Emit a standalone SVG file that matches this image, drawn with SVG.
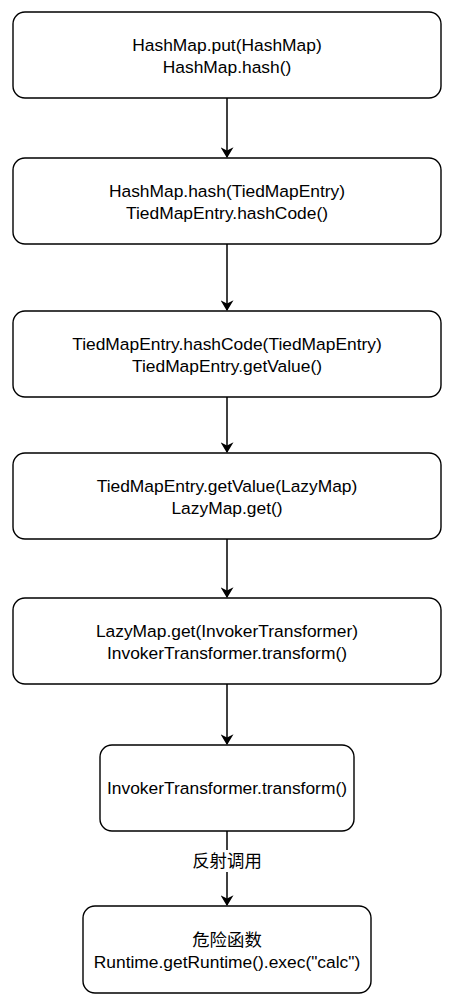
<svg xmlns="http://www.w3.org/2000/svg" width="457" height="1000" viewBox="0 0 457 1000">
<defs>
<marker id="arr" viewBox="0 0 10 12" refX="9" refY="6" markerWidth="11" markerHeight="13" markerUnits="userSpaceOnUse" orient="auto">
<path d="M0,0 L10,6 L0,12 L3,6 z" fill="#000"/>
</marker>
<style>
.box{fill:#fff;stroke:#000;stroke-width:1.4}
.t{font-family:"Liberation Sans",Arial,"Noto Sans CJK SC",sans-serif;font-size:17.4px;fill:#000;text-anchor:middle}
.c{stroke:#000;stroke-width:1.5;fill:none;marker-end:url(#arr)}
</style>
</defs>
<rect width="457" height="1000" fill="#fff"/>
<g id="connectors">
<line class="c" x1="227" y1="98" x2="227" y2="157"/>
<line class="c" x1="227" y1="244" x2="227" y2="310"/>
<line class="c" x1="227" y1="397" x2="227" y2="452"/>
<line class="c" x1="227" y1="539" x2="227" y2="597"/>
<line class="c" x1="227" y1="684" x2="227" y2="744"/>
<line class="c" x1="227" y1="831" x2="227" y2="905"/>
<rect x="192" y="850" width="70" height="22" fill="#fff"/>
<text class="t" x="227" y="867">反射调用</text>
</g>
<g id="n1"><rect class="box" x="13" y="12" width="428" height="86" rx="12"/><text class="t" x="227" y="51">HashMap.put(HashMap)</text><text class="t" x="227" y="73">HashMap.hash()</text></g>
<g id="n2"><rect class="box" x="13" y="158" width="428" height="86" rx="12"/><text class="t" x="227" y="197">HashMap.hash(TiedMapEntry)</text><text class="t" x="227" y="219">TiedMapEntry.hashCode()</text></g>
<g id="n3"><rect class="box" x="13" y="311" width="428" height="86" rx="12"/><text class="t" x="227" y="350">TiedMapEntry.hashCode(TiedMapEntry)</text><text class="t" x="227" y="372">TiedMapEntry.getValue()</text></g>
<g id="n4"><rect class="box" x="13" y="453" width="428" height="86" rx="12"/><text class="t" x="227" y="492">TiedMapEntry.getValue(LazyMap)</text><text class="t" x="227" y="514">LazyMap.get()</text></g>
<g id="n5"><rect class="box" x="13" y="598" width="428" height="86" rx="12"/><text class="t" x="227" y="637">LazyMap.get(InvokerTransformer)</text><text class="t" x="227" y="659">InvokerTransformer.transform()</text></g>
<g id="n6"><rect class="box" x="100" y="745" width="254" height="86" rx="12"/><text class="t" x="227" y="794">InvokerTransformer.transform()</text></g>
<g id="n7"><rect class="box" x="83" y="906" width="288" height="87" rx="12"/><text class="t" x="227" y="946">危险函数</text><text class="t" x="227" y="968">Runtime.getRuntime().exec("calc")</text></g>
</svg>
